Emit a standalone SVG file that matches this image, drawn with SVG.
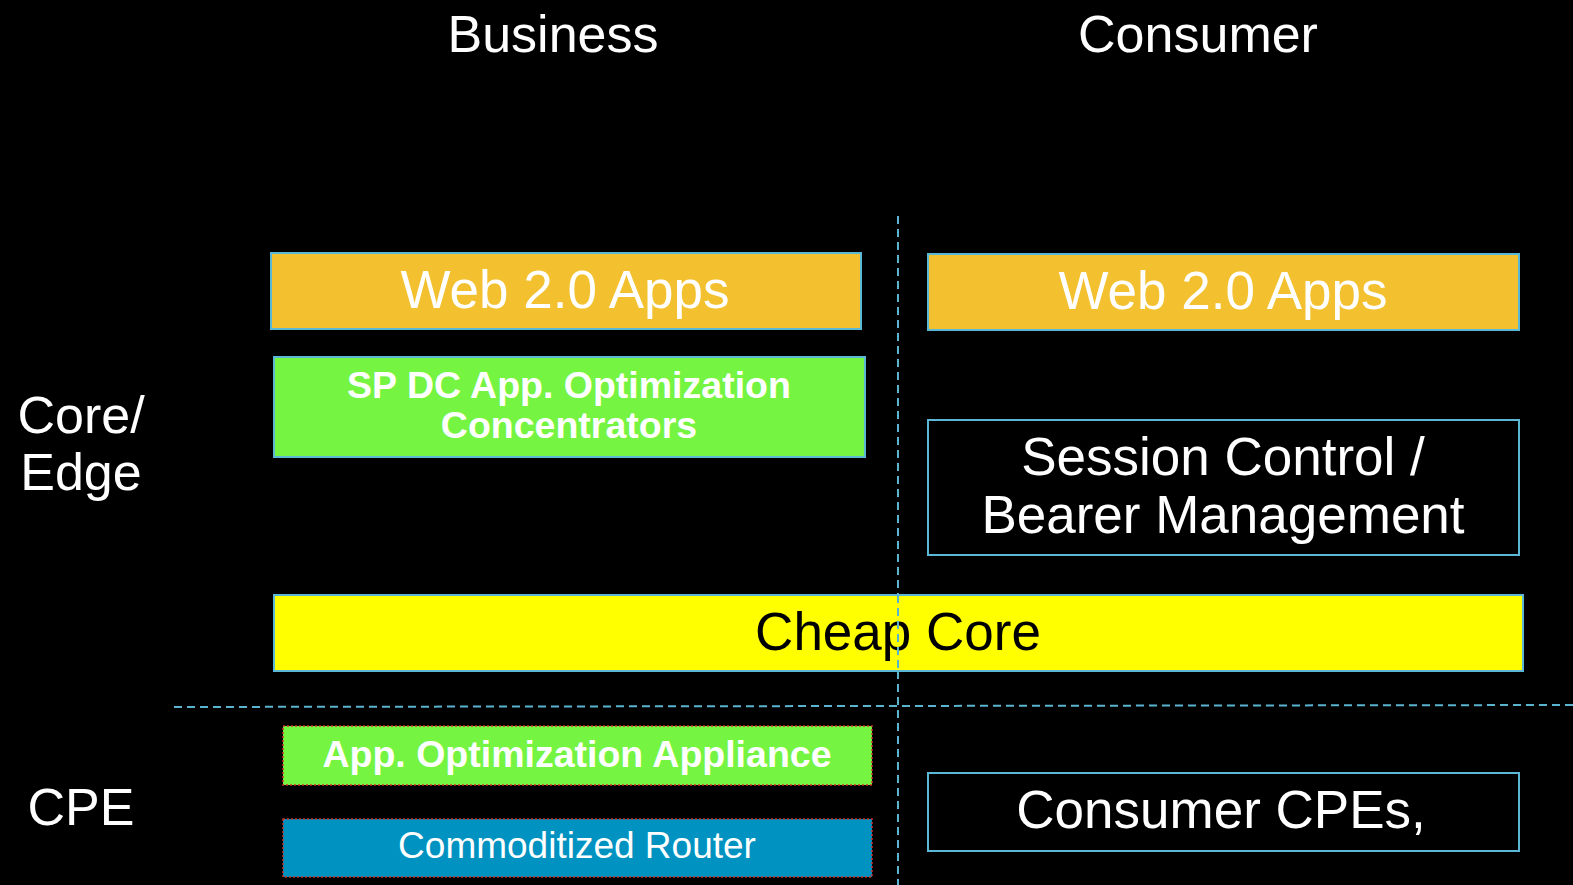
<svg xmlns="http://www.w3.org/2000/svg" width="1573" height="885" viewBox="0 0 1573 885">
<style>
text{font-family:"Liberation Sans",Arial,sans-serif;fill:#fff;text-anchor:middle}
.big{font-size:53px}
.hdr{font-size:52px}
.bold{font-size:37.5px;font-weight:bold}
.box{stroke:#5ab8d6;stroke-width:2}
.dot{stroke:#d0302a;stroke-width:1.5;stroke-dasharray:2 2}
.guide{stroke:#5ab4d0;stroke-width:2;stroke-dasharray:8 5;fill:none}
</style>
<rect width="1573" height="885" fill="#000"/>
<g id="connectors">
<line class="guide" x1="898" y1="216" x2="898" y2="885"/>
<line class="guide" x1="174" y1="707" x2="1573" y2="705"/>
</g>
<g id="headers">
<text class="hdr" x="553" y="52">Business</text>
<text class="hdr" x="1198" y="52">Consumer</text>
<text class="hdr" x="81" y="433">Core/</text>
<text class="hdr" x="81" y="490">Edge</text>
<text class="hdr" x="81" y="825">CPE</text>
</g>
<g id="web-business">
<rect class="box" x="271" y="253" width="590" height="76" fill="#f3c130"/>
<text class="big" x="565" y="308">Web 2.0 Apps</text>
</g>
<g id="web-consumer">
<rect class="box" x="928" y="254" width="591" height="76" fill="#f3c130"/>
<text class="big" x="1223" y="309">Web 2.0 Apps</text>
</g>
<g id="spdc">
<rect class="box" x="274" y="357" width="591" height="100" fill="#76f442"/>
<text class="bold" x="569" y="398">SP DC App. Optimization</text>
<text class="bold" x="569" y="438">Concentrators</text>
</g>
<g id="session">
<rect class="box" x="928" y="420" width="591" height="135" fill="#000"/>
<text class="big" x="1223" y="475">Session Control /</text>
<text class="big" x="1223" y="533">Bearer Management</text>
</g>
<g id="cheap-core">
<rect class="box" x="274" y="595" width="1249" height="76" fill="#ffff00"/>
<text class="big" x="898" y="650" style="fill:#000">Cheap Core</text>
</g>
<g id="app-opt">
<rect class="dot" x="283" y="726" width="589" height="59" fill="#76f442"/>
<text class="bold" x="577" y="767">App. Optimization Appliance</text>
</g>
<g id="router">
<rect class="dot" x="283" y="819" width="589" height="58" fill="#0093c2"/>
<text x="577" y="858" style="font-size:37px">Commoditized Router</text>
</g>
<g id="consumer-cpe">
<rect class="box" x="928" y="773" width="591" height="78" fill="#000"/>
<text class="big" x="1221" y="828">Consumer CPEs,</text>
</g>
<line class="guide" x1="898" y1="595" x2="898" y2="671"/>
</svg>
